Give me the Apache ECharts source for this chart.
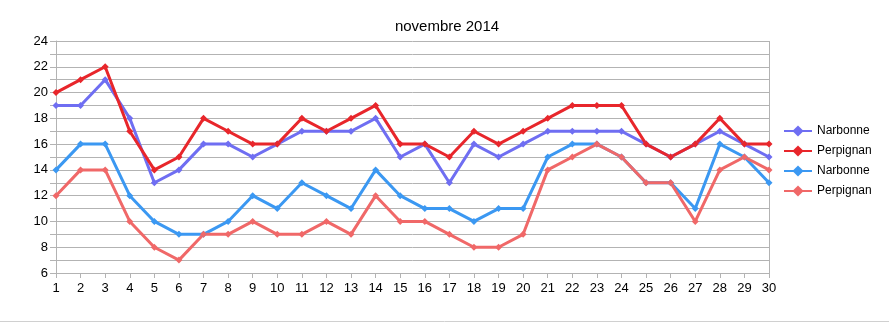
<!DOCTYPE html>
<html>
<head>
<meta charset="utf-8">
<script src="https://cdn.jsdelivr.net/npm/echarts@6/dist/echarts.min.js"></script>
<style>
  html, body { margin: 0; padding: 0; background: #fff; }
  #chart { width: 889px; height: 323px; }
</style>
</head>
<body>
<div id="chart"></div>
<script>
// Days of November 2014
const days = Array.from({ length: 30 }, (_, i) => String(i + 1));

// Temperatures per day
const narbonneMax = [19,19,21,18,13,14,16,16,15,16,17,17,17,18,15,16,13,16,15,16,17,17,17,17,16,15,16,17,16,15];
const perpignanMax = [20,21,22,17,14,15,18,17,16,16,18,17,18,19,16,16,15,17,16,17,18,19,19,19,16,15,16,18,16,16];
const narbonneMin = [14,16,16,12,10,9,9,10,12,11,13,12,11,14,12,11,11,10,11,11,15,16,16,15,13,13,11,16,15,13];
const perpignanMin = [12,14,14,10,8,7,9,9,10,9,9,10,9,12,10,10,9,8,8,9,14,15,16,15,13,13,10,14,15,14];

const seriesNames = ['Narbonne', 'Perpignan', 'Narbonne', 'Perpignan'];
const seriesColors = ['#6f6ef2', '#e8262b', '#3b98f2', '#f06868'];
const seriesData = [narbonneMax, perpignanMax, narbonneMin, perpignanMin];

const font = '"Liberation Sans", Arial, sans-serif';

// Duplicate names get a trailing space so each series keeps its own legend entry
const keyOf = i => seriesNames[i] + (i >= 2 ? ' ' : '');

const chart = echarts.init(document.getElementById('chart'));
chart.setOption({
  animation: false,
  title: {
    text: 'novembre 2014',
    left: 442,
    textAlign: 'center',
    top: 14,
    textStyle: { fontFamily: font, fontSize: 15, fontWeight: 'normal', color: '#000' }
  },
  legend: {
    orient: 'vertical',
    left: 778,
    top: 120,
    itemGap: 8,
    itemWidth: 28,
    itemHeight: 14,
    textStyle: { fontFamily: font, fontSize: 12, color: '#000' },
    data: seriesNames.map((n, i) => keyOf(i))
  },
  grid: { left: 56, right: 120, top: 41, bottom: 50 },
  xAxis: {
    type: 'category',
    data: days,
    boundaryGap: false,
    axisLine: { lineStyle: { color: '#b3b3b3' } },
    axisTick: { show: true, alignWithLabel: true, length: 5, lineStyle: { color: '#b3b3b3' } },
    axisLabel: { fontFamily: font, fontSize: 13, color: '#000', margin: 9, interval: 0 },
    splitLine: { show: false }
  },
  yAxis: {
    type: 'value',
    min: 6,
    max: 24,
    interval: 1,
    axisLine: { show: true, lineStyle: { color: '#b3b3b3' } },
    axisTick: { show: true, length: 6, lineStyle: { color: '#b3b3b3' } },
    axisLabel: {
      fontFamily: font, fontSize: 13, color: '#000', margin: 8,
      formatter: v => (v % 2 === 0 ? String(v) : '')
    },
    splitLine: { show: true, lineStyle: { color: '#b3b3b3', width: 1 } }
  },
  series: seriesData.map((d, i) => ({
    name: keyOf(i),
    type: 'line',
    data: d,
    symbol: 'diamond',
    symbolSize: 7,
    showSymbol: true,
    color: seriesColors[i],
    lineStyle: { width: 3, color: seriesColors[i] },
    itemStyle: { color: seriesColors[i] }
  })),
  graphic: [
    { type: 'line', shape: { x1: 0, y1: 321.5, x2: 889, y2: 321.5 }, style: { stroke: '#d0d0d0', lineWidth: 1 } },
    { type: 'line', shape: { x1: 769.5, y1: 41, x2: 769.5, y2: 273 }, style: { stroke: '#b3b3b3', lineWidth: 1 } }
  ]
});
</script>
</body>
</html>
